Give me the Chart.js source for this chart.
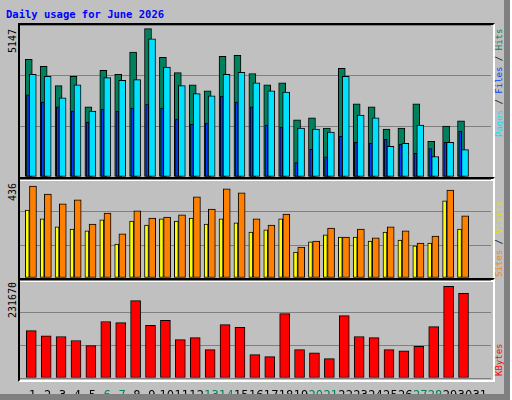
<!DOCTYPE html>
<html>
<head>
<meta charset="utf-8">
<script src="https://cdn.jsdelivr.net/npm/chart.js@4"></script>
<style>
  body { margin: 0; background: #fff; }
  #wrap { position: relative; width: 504px; height: 394px; background: #c0c0c0;
    border-right: 6px solid #808080; border-bottom: 6px solid #808080; overflow: hidden; }
  .frame { position: absolute; left: 18px; width: 473px; border-top: 2px solid #000;
    border-left: 2px solid #000; border-right: 2px solid #fff; border-bottom: 2px solid #fff; }
  canvas { position: absolute; }
  .t { position: absolute; font-family: "DejaVu Sans Mono", monospace; font-size: 9px; line-height: 11px;
    white-space: nowrap; transform-origin: 0 0; transform: rotate(-90deg); }
  .l { font-size: 10px; line-height: 12px; }
  #title { position: absolute; left: 6px; top: 8px; font: bold 10.5px "DejaVu Sans Mono", monospace; color: #0000ff; }
</style>
</head>
<body>
<div id="wrap">
  <div id="title">Daily usage for June 2026</div>
  <div class="frame" style="top:23px;height:154px"></div>
  <div class="frame" style="top:177px;height:101px"></div>
  <div class="frame" style="top:278px;height:100px"></div>
  <canvas id="c1" width="471" height="152" style="left:20px;top:25px"></canvas>
  <canvas id="c2" width="471" height="99" style="left:20px;top:179px"></canvas>
  <canvas id="c3" width="471" height="120" style="left:20px;top:280px"></canvas>
  <div class="t l" style="left:7px;top:53px">5147</div>
  <div class="t l" style="left:7px;top:201px">436</div>
  <div class="t l" style="left:7px;top:318px">231670</div>
  <div class="t" style="left:494px;top:137px"><span style="color:#00e0ff">Pages</span> / <span style="color:#0040ff">Files</span> / <span style="color:#00805c">Hits</span></div>
  <div class="t" style="left:494px;top:277px"><span style="color:#ff8000">Sites</span> / <span style="color:#e0e000">Visits</span></div>
  <div class="t" style="left:494px;top:376px"><span style="color:#ff0000">KBytes</span></div>
</div>
<script>
const days = Array.from({ length: 31 }, (_, i) => i + 1);
const weekends = [6, 7, 13, 14, 20, 21, 27, 28];
const hits = [4080, 3840, 3170, 3490, 2430, 3700, 3560, 4330, 5147, 4150, 3620, 3200, 2990, 4190, 4220, 3590,
  3200, 3270, 1980, 2050, 1700, 3770, 2540, 2430, 1660, 1700, 2540, 1240, 1770, 1950, 0];
const files = [3560, 3490, 2750, 3200, 2290, 3450, 3350, 3380, 4790, 3810, 3170, 2890, 2820, 3560, 3630, 3270,
  2990, 2950, 1700, 1660, 1560, 3490, 2150, 2050, 1060, 1170, 1800, 710, 1200, 950, 0];
const pages = [2850, 2600, 2430, 2290, 1900, 2360, 2290, 2390, 2530, 2390, 2010, 1830, 1870, 2810, 2600, 2430,
  1800, 1730, 500, 960, 700, 1410, 1200, 1170, 1310, 1130, 820, 990, 1200, 1590, 0];
const visits = [436, 398, 351, 370, 256, 308, 209, 318, 284, 289, 299, 384, 327, 422, 403, 280,
  251, 303, 147, 175, 237, 194, 232, 190, 242, 223, 166, 199, 417, 294, 0];
const sites = [322, 280, 242, 232, 223, 275, 161, 270, 251, 280, 270, 284, 256, 280, 261, 218,
  228, 280, 123, 171, 204, 194, 194, 175, 218, 180, 152, 166, 365, 232, 0];
const kbytes = [120000, 107000, 105000, 95000, 82000, 143000, 140000, 196000, 133000, 146000, 97000, 102000,
  72000, 135000, 128000, 59000, 54000, 163000, 72000, 64000, 49000, 158000, 105000, 102000, 72000, 69000,
  80000, 130000, 231670, 214000, 0];

const PX = 14.9; // pixels per day on the x scale
function pts(vals, offPx) {
  return vals.map((v, i) => ({ x: days[i] + offPx / PX, y: v }));
}
function bar(vals, color, offPx, width, order) {
  return { data: pts(vals, offPx), backgroundColor: color, borderColor: "#000", borderWidth: 1,
    borderSkipped: false, barThickness: width, grouped: false, order: order };
}
function opts(max, showX) {
  const x = {
    type: "linear", min: 0.15, max: 31.75, display: showX, offset: false,
    grid: { display: false }, border: { display: false },
    afterBuildTicks: (s) => { s.ticks = days.map((d) => ({ value: d })); },
    ticks: {
      padding: 3, autoSkip: false, maxRotation: 0, minRotation: 0,
      font: { family: "DejaVu Sans", size: 11.5 },
      color: (c) => (weekends.includes(c.tick.value) ? "#00805c" : "#000"),
    },
  };
  if (showX) x.afterFit = (s) => { s.height = 22; };
  return {
    responsive: false, animation: false,
    layout: { padding: 0 },
    plugins: { legend: { display: false }, tooltip: { enabled: false } },
    scales: {
      x: x,
      y: {
        min: 0, max: max, afterFit: (s) => { s.width = 0; },
        ticks: { display: false, stepSize: max / 3 },
        border: { display: false },
        grid: { color: "#808080", lineWidth: 1, drawTicks: false },
      },
    },
  };
}

new Chart(document.getElementById("c1"), {
  type: "bar",
  data: { datasets: [
    bar(hits, "#00805c", -3.9, 7, 3),
    bar(pages, "#0040ff", -4.7, 3, 2),
    bar(files, "#00e0ff", 0.1, 7, 1),
  ] },
  options: opts(5273, false),
});
new Chart(document.getElementById("c2"), {
  type: "bar",
  data: { datasets: [
    bar(sites, "#ffff00", -5.4, 4, 2),
    bar(visits, "#ff8000", 0.3, 7, 1),
  ] },
  options: opts(469, false),
});
new Chart(document.getElementById("c3"), {
  type: "bar",
  data: { datasets: [bar(kbytes, "#ff0000", -1.4, 10, 1)] },
  options: opts(248000, true),
});
</script>
</body>
</html>
